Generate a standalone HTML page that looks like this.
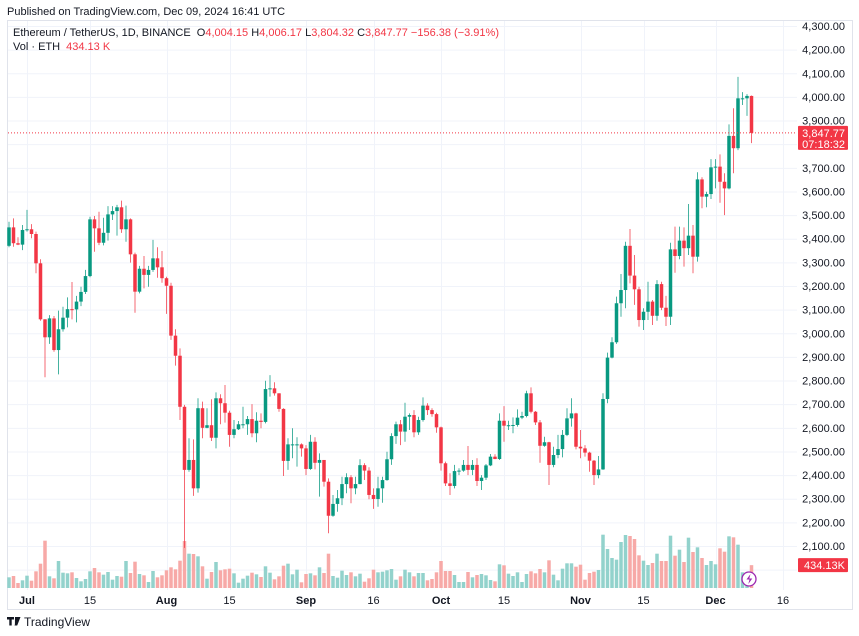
<!DOCTYPE html>
<html><head><meta charset="utf-8"><style>
html,body{margin:0;padding:0;background:#fff;width:859px;height:636px;overflow:hidden;font-family:"Liberation Sans",sans-serif}
svg text{font-family:"Liberation Sans",sans-serif}
</style></head><body>
<svg id="chart" width="859" height="636" xmlns="http://www.w3.org/2000/svg">
<text x="7" y="15" font-size="11" fill="#131722">Published on TradingView.com, Dec 09, 2024 16:41 UTC</text>
<rect x="7.5" y="20.5" width="845" height="589" fill="none" stroke="#e0e3eb"/>
<g id="grid"></g>
<g id="vols"></g>
<g id="candles"></g>
<g id="yaxis"></g>
<g id="xaxis"></g>
<text x="13" y="36" font-size="11" fill="#131722">Ethereum / TetherUS, 1D, BINANCE <tspan dx="3">O</tspan><tspan fill="#f23645">4,004.15</tspan> <tspan>H</tspan><tspan fill="#f23645">4,006.17</tspan> <tspan>L</tspan><tspan fill="#f23645">3,804.32</tspan> <tspan>C</tspan><tspan fill="#f23645">3,847.77</tspan> <tspan fill="#f23645">−156.38 (−3.91%)</tspan></text>
<text x="13" y="50" font-size="11" fill="#131722">Vol · ETH <tspan dx="3" fill="#f23645">434.13 K</tspan></text>
<g>
<path d="M7 617h7v2.5h-2.3v6h-2.4v-6H7z M15 617h2.6l-2.6 8.5h-0.1z M17.5 617h3l-3.3 8.5h-2.7z" fill="#131722"/>
<text x="24" y="626" font-size="12" fill="#131722">TradingView</text></g>
</svg>
<script>
const closes=[3448,3381,3375,3437,3440,3420,3296,3059,2983,3063,
2929,3017,3066,3102,3101,3134,3175,3242,3482,3444,
3383,3425,3503,3517,3533,3440,3482,3334,3176,3273,
3247,3268,3317,3279,3233,3201,2990,2905,2689,2422,
2464,2344,2683,2600,2611,2558,2725,2704,2664,2570,
2594,2615,2615,2637,2577,2630,2625,2764,2767,2746,
2680,2460,2530,2530,2530,2513,2426,2541,2452,2464,
2372,2228,2278,2302,2362,2391,2344,2362,2442,2419,
2316,2299,2344,2379,2467,2565,2615,2584,2647,2654,
2581,2633,2694,2675,2658,2602,2450,2365,2354,2417,
2419,2443,2422,2443,2375,2389,2441,2478,2468,2630,
2609,2611,2612,2643,2650,2746,2668,2623,2524,2539,
2443,2485,2510,2570,2640,2661,2520,2513,2495,2461,
2400,2424,2722,2897,2962,3127,3183,3370,3244,3186,
3056,3091,3134,3074,3208,3108,3070,3355,3327,3392,
3360,3413,3324,3651,3578,3589,3702,3705,3641,3613,
3835,3783,3994,3994,4004.15,3847.77];
const highs=[3472,3486,3406,3458,3522,3462,3430,3313,3060,3077,
3073,3096,3112,3152,3217,3158,3197,3268,3493,3496,
3514,3489,3538,3538,3543,3561,3540,3486,3341,3285,
3327,3285,3395,3364,3348,3239,3214,3017,2936,2697,
2556,2551,2725,2711,2683,2721,2750,2742,2781,2672,
2633,2629,2689,2650,2700,2666,2661,2799,2823,2793,
2746,2683,2556,2598,2560,2534,2527,2570,2560,2492,
2464,2386,2316,2337,2393,2408,2400,2393,2467,2450,
2433,2344,2393,2393,2499,2577,2626,2633,2706,2661,
2675,2647,2729,2704,2683,2664,2605,2457,2408,2443,
2429,2464,2523,2464,2471,2400,2447,2489,2488,2661,
2692,2630,2644,2678,2668,2757,2771,2671,2633,2562,
2541,2520,2570,2591,2683,2725,2664,2591,2527,2499,
2464,2481,2746,2918,2983,3155,3251,3387,3441,3331,
3197,3106,3218,3141,3225,3218,3158,3383,3451,3451,
3448,3547,3458,3681,3660,3599,3737,3737,3757,3677,
3884,3952,4085,4020,4012,4006.17];
const lows=[3364,3366,3373,3352,3430,3402,3254,3053,2814,2955,
2922,2826,3007,3025,3059,3046,3115,3166,3237,3345,
3373,3372,3392,3479,3413,3425,3387,3299,3087,3169,
3190,3197,3260,3235,3214,3082,2972,2863,2633,2092,
2414,2312,2326,2556,2598,2544,2513,2615,2622,2520,
2556,2591,2598,2570,2560,2539,2598,2619,2732,2736,
2668,2396,2422,2471,2436,2478,2400,2422,2424,2309,
2351,2154,2224,2245,2273,2323,2281,2319,2361,2379,
2298,2257,2266,2283,2376,2443,2532,2527,2541,2591,
2560,2570,2626,2654,2647,2579,2419,2354,2316,2344,
2400,2414,2400,2400,2354,2337,2379,2438,2467,2464,
2541,2591,2577,2605,2637,2644,2661,2612,2452,2520,
2358,2433,2471,2475,2565,2605,2509,2471,2478,2414,
2358,2386,2422,2704,2894,2955,3070,3106,3211,3120,
3028,3014,3056,3035,3053,3098,3031,3035,3256,3313,
3282,3331,3254,3303,3529,3533,3568,3613,3552,3500,
3609,3677,3775,3966,3920,3804.32];
const firstOpen=3370;
const volumes=[203,228,95,146,234,139,317,462,899,222,
184,513,291,279,298,190,127,171,317,380,
298,253,304,158,228,215,513,285,500,266,
241,114,323,203,241,336,393,355,519,893,
652,646,602,412,177,304,494,336,355,367,
279,101,177,234,291,260,209,412,291,165,
222,424,462,260,348,108,266,279,241,393,
285,652,228,196,329,247,298,222,272,120,
184,348,298,310,336,361,158,222,348,298,
222,285,285,146,171,298,513,323,323,247,
114,114,304,203,247,266,241,152,127,450,
431,272,228,298,114,266,317,279,361,298,
526,253,146,367,469,469,405,443,158,285,
310,342,1013,741,570,538,874,1007,988,931,
621,519,437,475,652,513,513,994,614,728,
494,956,684,773,570,437,513,450,754,690,
982,963,823,298,285,434.13];
const priceTicks=[4300,4200,4100,4000,3900,3800,3700,3600,3500,3400,3300,3200,3100,3000,2900,2800,2700,2600,2500,2400,2300,2200,2100];
const timeTickIdx=[4,18,35,49,66,81,96,110,127,141,157,172];
const timeTickLabels=["Jul","15","Aug","15","Sep","16","Oct","15","Nov","15","Dec","16"];
const lastPrice=3847.77, lastVol="434.13K", countdown="07:18:32";

const NS="http://www.w3.org/2000/svg";
const X=i=>9+i*4.5;
const Y=p=>26+(4300-p)*0.236364;
const VY=v=>588-v/19;
const PLOT_R=797;
function mk(tag,attrs,parent){const e=document.createElementNS(NS,tag);for(const k in attrs)e.setAttribute(k,attrs[k]);parent.appendChild(e);return e;}
const grid=document.getElementById('grid');
for(let p=2000;p<=4300;p+=100){const l=mk('line',{x1:8,x2:PLOT_R,y1:Y(p)+0.5,y2:Y(p)+0.5,stroke:'#f0f3fa'},grid);

}
timeTickIdx.forEach(i=>{const l=mk('line',{x1:Math.round(X(i))+0.5,x2:Math.round(X(i))+0.5,y1:21,y2:590,stroke:'#f0f3fa'},grid);

});
const vg=document.getElementById('vols'), cg=document.getElementById('candles');
const opens=[firstOpen,...closes.slice(0,-1)];
opens[opens.length-1]=4004.15;
closes.forEach((c,i)=>{
 const o=opens[i],up=c>=o,col=up?'#089981':'#f23645';
 const x=X(i);
 const vb=mk('rect',{x:x-1.75,y:VY(volumes[i]),width:3.5,height:588-VY(volumes[i]),fill:up?'#92d2cc':'#f7a9a7'},vg);
 
 
 const w=mk('line',{x1:x,x2:x,y1:Y(highs[i]),y2:Y(lows[i]),stroke:col,'stroke-width':1,opacity:0.75},cg);
 
 
 const top=Y(Math.max(o,c)),bot=Y(Math.min(o,c));
 const b=mk('rect',{x:x-1.75,y:top,width:3.5,height:Math.max(1,bot-top),fill:col},cg);
 
 
});
const ya=document.getElementById('yaxis');
priceTicks.forEach(p=>{const t=mk('text',{x:845,y:Y(p)+4,'font-size':11,fill:'#131722','text-anchor':'end'},ya);t.textContent=p.toLocaleString('en-US',{minimumFractionDigits:2});

});
const ly=Y(lastPrice);
const dl=mk('line',{x1:8,x2:PLOT_R,y1:ly,y2:ly,stroke:'#f23645','stroke-dasharray':'1 2','stroke-width':1},ya);


const pb=mk('rect',{x:798,y:ly-7,width:50,height:24,fill:'#f23645',rx:1},ya);


let t1=mk('text',{x:845,y:ly+4,'font-size':11,fill:'#fff','text-anchor':'end'},ya);t1.textContent=lastPrice.toLocaleString('en-US',{minimumFractionDigits:2});


let t2=mk('text',{x:845,y:ly+15,'font-size':11,fill:'#fff','text-anchor':'end'},ya);t2.textContent=countdown;


const vly=VY(volumes[volumes.length-1]);
const vbx=mk('rect',{x:798,y:vly-7,width:50,height:14,fill:'#f23645',rx:1},ya);


let t3=mk('text',{x:845,y:vly+4,'font-size':11,fill:'#fff','text-anchor':'end'},ya);t3.textContent=lastVol;


const xa=document.getElementById('xaxis');
timeTickIdx.forEach((i,k)=>{const lab=timeTickLabels[k];const t=mk('text',{x:X(i),y:604,'font-size':11,fill:'#131722','text-anchor':'middle','font-weight':/^\d/.test(lab)?'normal':'bold'},xa);t.textContent=lab;

});
const ic=mk('circle',{cx:749,cy:579,r:7,fill:'#fff',stroke:'#9c27b0','stroke-width':1.3},xa);


const bolt=mk('path',{d:'M750.5 574l-4 5.5h3l-1.2 4.5 4-5.5h-3z',fill:'#9c27b0'},xa);


</script>
</body></html>
